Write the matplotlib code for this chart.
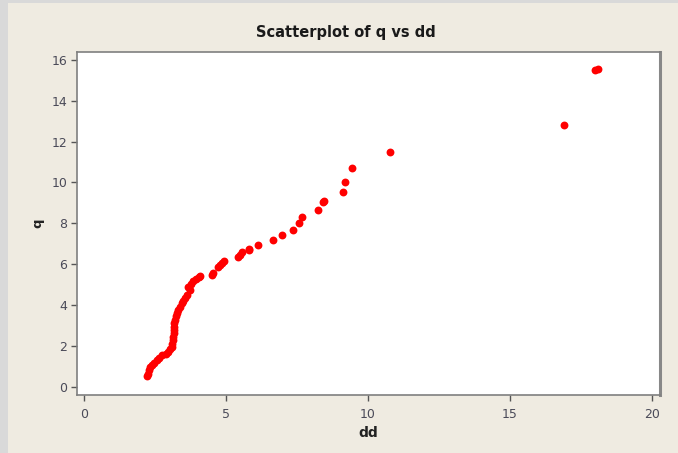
import matplotlib.pyplot as plt
from matplotlib.patches import Rectangle

dd = [2.21, 2.25, 2.27, 2.33, 2.38, 2.47, 2.56, 2.65, 2.74, 2.88, 2.97, 3.03,
      3.09, 3.10, 3.12, 3.13, 3.15, 3.16, 3.15, 3.18, 3.20, 3.25, 3.28, 3.32,
      3.38, 3.44, 3.50, 3.56, 3.62, 3.73, 3.67, 3.76, 3.85, 3.95, 4.03, 4.08,
      4.49, 4.55, 4.73, 4.79, 4.85, 4.91, 5.43, 5.49, 5.55, 5.79, 5.82, 6.14,
      6.64, 6.97, 7.35, 7.58, 7.66, 8.22, 8.40, 8.45, 9.11, 9.17, 9.45, 10.77,
      16.9, 18.0, 18.1]
q = [0.50, 0.62, 0.82, 0.95, 1.06, 1.18, 1.31, 1.42, 1.55, 1.62, 1.72, 1.82,
     1.96, 2.10, 2.29, 2.45, 2.62, 2.78, 2.94, 3.10, 3.27, 3.45, 3.60, 3.76,
     3.92, 4.09, 4.20, 4.33, 4.50, 4.74, 4.90, 5.02, 5.15, 5.28, 5.39, 5.40,
     5.48, 5.55, 5.88, 5.97, 6.05, 6.13, 6.37, 6.45, 6.57, 6.70, 6.72, 6.96,
     7.19, 7.42, 7.68, 8.01, 8.30, 8.63, 9.05, 9.10, 9.51, 10.03, 10.71, 11.50,
     12.82, 15.50, 15.55]

xticks = [0, 5, 10, 15, 20]
yticks = [0, 2, 4, 6, 8, 10, 12, 14, 16]

W, H = 678, 453
fig = plt.figure(figsize=(W / 100, H / 100), dpi=100)
fig.patch.set_facecolor('#efebe1')
# grey strips at the left and top edge of the screenshot
fig.patches.append(Rectangle((0, 0), 8 / W, 1, transform=fig.transFigure,
                             facecolor='#d9d9d9', edgecolor='none', zorder=0))
fig.patches.append(Rectangle((0, 1 - 3 / H), 1, 3 / H, transform=fig.transFigure,
                             facecolor='#d9d9d9', edgecolor='none', zorder=0))

left, right, top, bottom = 77, 660, 52, 395
ax = fig.add_axes([left / W, 1 - bottom / H, (right - left) / W, (bottom - top) / H])
ax.set_facecolor('white')

ax.scatter(dd, q, s=32, color='#ff0000', marker='o', linewidths=0, zorder=3)

ax.set_xlim(-0.25, 20.28)
ax.set_ylim(-0.41, 16.39)
ax.set_xticks(xticks)
ax.set_yticks(yticks)

tick_color = '#4a4a58'
ax.tick_params(axis='both', direction='out', length=4, width=1, color='#555555',
               labelsize=9, labelcolor=tick_color, pad=3)
ax.tick_params(axis='x', pad=5)

for name, sp in ax.spines.items():
    sp.set_color('#7f7f7f')
    sp.set_linewidth(1.2)
ax.spines['right'].set_linewidth(2.2)
ax.spines['right'].set_color('#888888')

ax.set_xlabel('dd', fontsize=10, fontweight='bold', color='#222222', labelpad=4)
ax.set_ylabel('q', fontsize=9.5, fontweight='bold', color='#222222', labelpad=5)

fig.text(346 / W, 1 - 32 / H, 'Scatterplot of q vs dd', ha='center', va='center',
         fontsize=10.5, fontweight='bold', color='#1a1a1a')

fig.savefig('out.png', dpi=100, facecolor=fig.get_facecolor())
